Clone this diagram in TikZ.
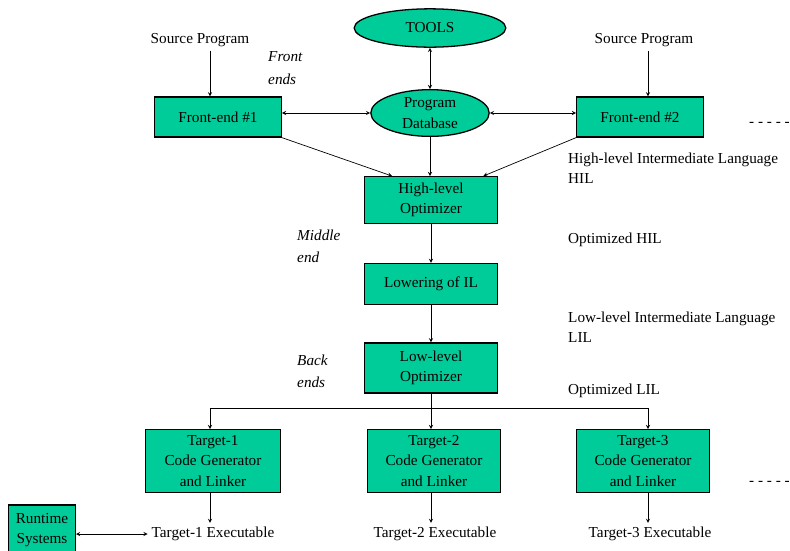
\documentclass[tikz,border=0pt]{standalone}
\usepackage{fontspec}
\setmainfont{Liberation Serif}
\usetikzlibrary{shapes.geometric, positioning}
\definecolor{boxgreen}{RGB}{0,204,153}

\begin{document}
\begin{tikzpicture}[
        x=0.03cm, y=-0.03cm,
        >=stealth,
        font=\fontsize{13}{17.5}\selectfont,
        bnode/.style={rectangle, draw=black, fill=boxgreen, line width=1.1pt, align=center, inner sep=0pt},
        enode/.style={ellipse, draw=black, fill=boxgreen, line width=1.1pt, align=center, inner sep=0pt},
        lnode/.style={anchor=west, align=left, inner sep=0pt},
        pnode/.style={anchor=west, align=left, inner sep=0pt, font=\fontsize{13}{19}\selectfont\itshape},
        conn/.style={semithick},
      ]

        \useasboundingbox (0,0) rectangle (790,550);

        \node[enode, minimum width=4.55cm, minimum height=1.15cm] (tools) at (430,28)  {TOOLS};
        \node[enode, minimum width=3.55cm, minimum height=1.4cm]  (pdb)   at (430,113) {Program\\Database};

        \node (src1) at (200,40) {Source Program};
        \node (src2) at (644,40) {Source Program};
        \node[bnode, minimum width=3.8cm, minimum height=1.2cm] (fe1) at (218,117) {Front-end \#1};
        \node[bnode, minimum width=3.8cm, minimum height=1.2cm] (fe2) at (640,117) {Front-end \#2};
        \node[pnode] (fends) at (268,68) {Front\\ends};
        \node[anchor=east, inner sep=0pt] (dots1) at (790,124) {- - - - -};

        \node[bnode, minimum width=4cm, minimum height=1.4cm]  (hlo)   at (431,200) {High-level\\Optimizer};
        \node[bnode, minimum width=4cm, minimum height=1.23cm] (lower) at (431,284) {Lowering of IL};
        \node[bnode, minimum width=4cm, minimum height=1.5cm]  (llo)   at (431,368) {Low-level\\Optimizer};

        \node[lnode] (hil)  at (568,168) {High-level Intermediate Language\\HIL};
        \node[lnode] (ohil) at (568,240) {Optimized HIL};
        \node[lnode] (lil)  at (568,327) {Low-level Intermediate Language\\LIL};
        \node[lnode] (olil) at (568,391) {Optimized LIL};
        \node[pnode] (mid)  at (297,246) {Middle\\end};
        \node[pnode] (back) at (297,371) {Back\\ends};

        \node[bnode, minimum width=4.05cm, minimum height=1.88cm] (t1) at (213,461) {Target-1\\Code Generator\\and Linker};
        \node[bnode, minimum width=4.0cm,  minimum height=1.88cm] (t2) at (434,461) {Target-2\\Code Generator\\and Linker};
        \node[bnode, minimum width=4.0cm,  minimum height=1.88cm] (t3) at (643,461) {Target-3\\Code Generator\\and Linker};
        \node[anchor=east, inner sep=0pt] (dots2) at (790,483) {- - - - -};

        \node (x1) at (213,534) {Target-1 Executable};
        \node (x2) at (435,534) {Target-2 Executable};
        \node (x3) at (650,534) {Target-3 Executable};
        \node[bnode, minimum width=2cm, minimum height=1.5cm] (rts) at (42,530) {Runtime\\Systems};

        \coordinate (busl) at (210,408);
        \coordinate (busr) at (648,408);

        \draw[conn, <->] (tools.south) -- (pdb.north);
        \draw[conn, <->] (fe1.east |- pdb.west) -- (pdb.west);
        \draw[conn, <->] (fe2.west |- pdb.east) -- (pdb.east);
        \draw[conn, ->] (src1.south -| busl) -- (fe1.north -| busl);
        \draw[conn, ->] (src2.south -| busr) -- (fe2.north -| busr);
        \draw[conn, ->] (pdb.south) -- (pdb.south |- hlo.north);
        \draw[conn, ->] (fe1.south east) -- ([xshift=0.85cm]hlo.north west);
        \draw[conn, ->] (fe2.south west) -- ([xshift=-0.45cm]hlo.north east);
        \draw[conn, ->] (hlo.south) -- (lower.north);
        \draw[conn, ->] (lower.south) -- (llo.north);
        \draw[conn] (llo.south) -- (llo.south |- busl);
        \draw[conn] (busl) -- (busr);
        \draw[conn, ->] (busl) -- (busl |- t1.north);
        \draw[conn, ->] (llo.south |- busl) -- (llo.south |- t2.north);
        \draw[conn, ->] (busr) -- (busr |- t3.north);
        \draw[conn, ->] (t1.south -| busl) -- (x1.north -| busl);
        \draw[conn, ->] (t2.south -| llo.south) -- (x2.north -| llo.south);
        \draw[conn, ->] (t3.south -| busr) -- (x3.north -| busr);
        \draw[conn, <->] (rts.east |- x1) -- (x1.west);
      \end{tikzpicture}
\end{document}
